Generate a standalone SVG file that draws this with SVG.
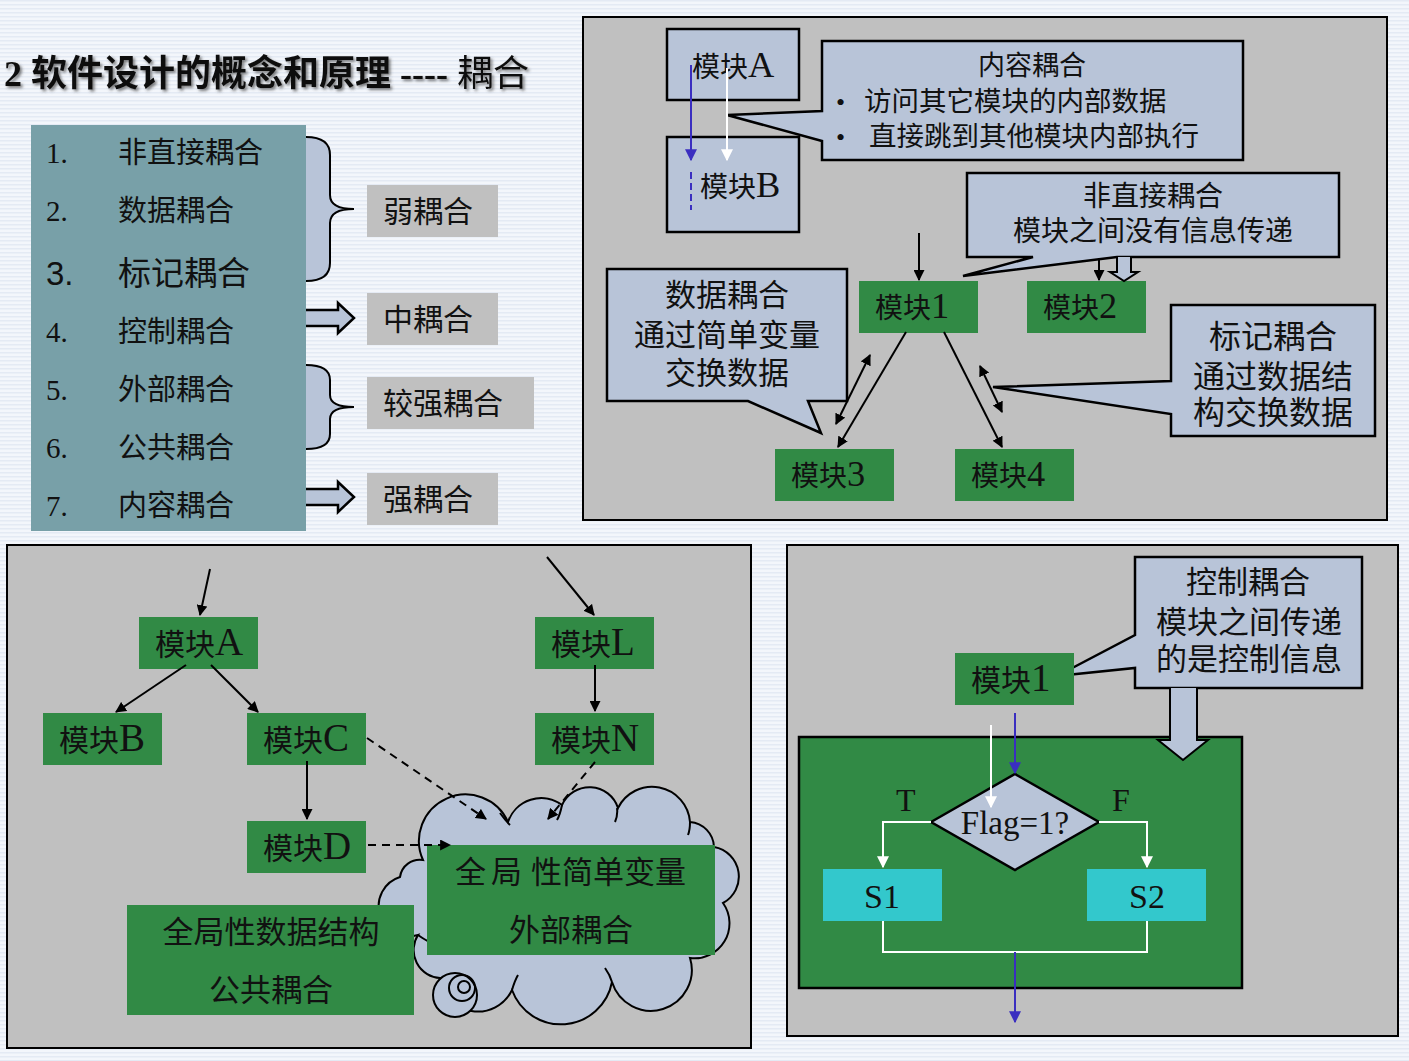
<svg xmlns="http://www.w3.org/2000/svg" width="1409" height="1061" viewBox="0 0 1409 1061">
<style>
.t{font-family:"Liberation Serif","Noto Sans CJK SC",serif;fill:#111}
.L{font-size:1.3em}
.pan{fill:#c0c0c0;stroke:#000;stroke-width:2}
.call{fill:#b8c4d8;stroke:#000;stroke-width:2.5}
.grn{fill:#318a45}
.gray{fill:#c0c0c0}
.ln{stroke:#000;stroke-width:2;fill:none}
.dash{stroke:#000;stroke-width:2;fill:none;stroke-dasharray:8 6}
.wl{stroke:#fff;stroke-width:2;fill:none}
.bl{stroke:#3a2ec0;stroke-width:2;fill:none}
</style>
<defs>
<pattern id="bg" width="8" height="4" patternUnits="userSpaceOnUse">
<rect width="8" height="4" fill="#f3f6fb"/>
<rect width="8" height="1.5" fill="#e4eaf4"/>
</pattern>
<marker id="ak" viewBox="0 0 10 10" refX="9" refY="5" markerWidth="11" markerHeight="11" orient="auto-start-reverse" markerUnits="userSpaceOnUse">
<path d="M0,0 L10,5 L0,10 z" fill="#000"/>
</marker>
<marker id="ab" viewBox="0 0 10 10" refX="9" refY="5" markerWidth="6" markerHeight="6" orient="auto" markerUnits="strokeWidth">
<path d="M0,0 L10,5 L0,10 z" fill="#3a2ec0"/>
</marker>
<marker id="aw" viewBox="0 0 10 10" refX="9" refY="5" markerWidth="6" markerHeight="6" orient="auto" markerUnits="strokeWidth">
<path d="M0,0 L10,5 L0,10 z" fill="#fff"/>
</marker>
<filter id="sh" x="-5%" y="-20%" width="110%" height="140%">
<feDropShadow dx="2" dy="2" stdDeviation="1.5" flood-color="#444" flood-opacity="0.7"/>
</filter>
</defs>
<rect width="1409" height="1061" fill="url(#bg)"/>

<!-- title -->
<g id="title">
<text class="t" x="4" y="86" font-size="36" filter="url(#sh)"><tspan font-weight="bold">2 软件设计的概念和原理 ----</tspan><tspan> 耦合</tspan></text>
</g>

<!-- left list -->
<g id="list">
<rect x="31" y="125" width="275" height="406" fill="#78a0a8"/>
<g class="t" font-size="29">
<text x="46" y="163">1.</text><text x="118" y="163">非直接耦合</text>
<text x="46" y="221">2.</text><text x="118" y="221">数据耦合</text>
<text x="46" y="285" font-size="33" font-family="Liberation Sans,sans-serif">3.</text><text x="118" y="285" font-size="33">标记耦合</text>
<text x="46" y="342">4.</text><text x="118" y="342">控制耦合</text>
<text x="46" y="400">5.</text><text x="118" y="400">外部耦合</text>
<text x="46" y="458">6.</text><text x="118" y="458">公共耦合</text>
<text x="46" y="516">7.</text><text x="118" y="516">内容耦合</text>
</g>
</g>
<g id="brace1">
<path d="M306,137 Q330,137 330,155 L330,195 Q330,209 354,209 Q330,209 330,223 L330,263 Q330,281 306,281 Z" fill="#b8c4d8"/>
<path d="M306,137 Q330,137 330,155 L330,195 Q330,209 354,209 Q330,209 330,223 L330,263 Q330,281 306,281" class="ln" stroke-width="2.5"/>
</g>
<g id="brace2">
<path d="M306,365 Q330,365 330,380 L330,395 Q330,407 354,407 Q330,407 330,419 L330,434 Q330,449 306,449 Z" fill="#b8c4d8"/>
<path d="M306,365 Q330,365 330,380 L330,395 Q330,407 354,407 Q330,407 330,419 L330,434 Q330,449 306,449" class="ln" stroke-width="2.5"/>
</g>
<g id="harrow1"><path d="M306,310 L338,310 L338,303 L354,318 L338,333 L338,326 L306,326" fill="#b8c4d8" stroke="#000" stroke-width="2.5"/></g>
<g id="harrow2"><path d="M306,489 L338,489 L338,482 L354,497 L338,512 L338,505 L306,505" fill="#b8c4d8" stroke="#000" stroke-width="2.5"/></g>
<g id="weak"><rect class="gray" x="367" y="185" width="131" height="52"/><text class="t" x="383" y="222" font-size="30">弱耦合</text></g>
<g id="mid"><rect class="gray" x="367" y="293" width="131" height="52"/><text class="t" x="383" y="330" font-size="30">中耦合</text></g>
<g id="strongish"><rect class="gray" x="367" y="377" width="167" height="52"/><text class="t" x="383" y="414" font-size="30">较强耦合</text></g>
<g id="strong"><rect class="gray" x="367" y="473" width="131" height="52"/><text class="t" x="383" y="510" font-size="30">强耦合</text></g>

<!-- top-right panel -->
<rect class="pan" x="583" y="17" width="804" height="503"/>
<g id="tA"><rect class="call" x="667" y="29" width="132" height="71"/><text class="t" x="692" y="77" font-size="28">模块<tspan class="L">A</tspan></text></g>
<g id="tB"><rect class="call" x="667" y="137" width="132" height="95"/><text class="t" x="700" y="197" font-size="28">模块<tspan class="L">B</tspan></text></g>
<g id="c-content">
<path class="call" d="M822,41 L1243,41 L1243,160 L822,160 L822,141 L727,115 L822,111 Z"/>
<text class="t" x="1032" y="75" font-size="27" text-anchor="middle">内容耦合</text>
<text class="t" x="836" y="111" font-size="26">•</text><text class="t" x="864" y="111" font-size="27.5">访问其它模块的内部数据</text>
<text class="t" x="836" y="146" font-size="26">•</text><text class="t" x="869" y="146" font-size="27.5">直接跳到其他模块内部执行</text>
</g>
<g id="c-indirect">
<path class="call" d="M967,173 L1339,173 L1339,257 L1117,257 L963,276 L1033,257 L967,257 Z"/>
<text class="t" x="1153" y="206" font-size="28" text-anchor="middle">非直接耦合</text>
<text class="t" x="1153" y="241" font-size="28" text-anchor="middle">模块之间没有信息传递</text>
</g>
<g id="m1"><rect class="grn" x="859" y="281" width="119" height="52"/><text class="t" x="875" y="318" font-size="28">模块<tspan class="L">1</tspan></text></g>
<g id="m2"><rect class="grn" x="1027" y="281" width="119" height="52"/><text class="t" x="1043" y="318" font-size="28">模块<tspan class="L">2</tspan></text></g>
<g id="m3"><rect class="grn" x="775" y="449" width="119" height="52"/><text class="t" x="791" y="486" font-size="28">模块<tspan class="L">3</tspan></text></g>
<g id="m4"><rect class="grn" x="955" y="449" width="119" height="52"/><text class="t" x="971" y="486" font-size="28">模块<tspan class="L">4</tspan></text></g>
<g id="c-data">
<path class="call" d="M607,269 L847,269 L847,401 L808,401 L821,433 L748,401 L607,401 Z"/>
<text class="t" x="727" y="306" font-size="31" text-anchor="middle">数据耦合</text>
<text class="t" x="727" y="346" font-size="31" text-anchor="middle">通过简单变量</text>
<text class="t" x="727" y="384" font-size="31" text-anchor="middle">交换数据</text>
</g>
<g id="c-stamp">
<path class="call" d="M1171,305 L1375,305 L1375,436 L1171,436 L1171,414 L993,387 L1171,381 Z"/>
<text class="t" x="1273" y="348" font-size="32" text-anchor="middle">标记耦合</text>
<text class="t" x="1273" y="388" font-size="32" text-anchor="middle">通过数据结</text>
<text class="t" x="1273" y="424" font-size="32" text-anchor="middle">构交换数据</text>
</g>
<g id="harrow3"><path d="M1117,257 L1117,272 L1110,272 L1124,281 L1138,272 L1131,272 L1131,257" fill="#b8c4d8" stroke="#000" stroke-width="2"/></g>

<!-- bottom-left panel -->
<rect class="pan" x="7" y="545" width="744" height="503"/>
<g id="cloud">
<path d="M423,860 A45,45 0 0 1 508,822 A35,35 0 0 1 562,805 A30,30 0 0 1 618,808 A38,38 0 0 1 690,822 A26,26 0 0 1 714,847 A30,30 0 0 1 723,903 A35,35 0 0 1 690,958 A40,40 0 0 1 612,982 A52,52 0 0 1 512,990 A38,38 0 0 1 440,978 A28,28 0 0 1 418,935 A30,30 0 0 1 400,877 A20,20 0 0 1 423,860 Z" fill="#b8c4d8" stroke="#000" stroke-width="2"/>
<path d="M500,813 Q505,820 510,825 M562,805 Q560,815 557,820 M617,808 Q618,815 615,822 M690,822 Q690,830 688,835 M612,982 Q610,975 605,968 M512,990 Q515,980 518,975 M418,935 Q425,940 430,942" class="ln"/>
<circle cx="455" cy="995" r="22" fill="#b8c4d8" stroke="#000" stroke-width="2"/>
<circle cx="462" cy="988" r="13" fill="none" stroke="#000" stroke-width="2"/>
<circle cx="464" cy="987" r="6" fill="none" stroke="#000" stroke-width="2"/>
</g>
<g id="bA"><rect class="grn" x="139" y="617" width="119" height="52"/><text class="t" x="155" y="655" font-size="30">模块<tspan class="L">A</tspan></text></g>
<g id="bB"><rect class="grn" x="43" y="713" width="119" height="52"/><text class="t" x="59" y="751" font-size="30">模块<tspan class="L">B</tspan></text></g>
<g id="bC"><rect class="grn" x="247" y="713" width="119" height="52"/><text class="t" x="263" y="751" font-size="30">模块<tspan class="L">C</tspan></text></g>
<g id="bD"><rect class="grn" x="247" y="821" width="119" height="52"/><text class="t" x="263" y="859" font-size="30">模块<tspan class="L">D</tspan></text></g>
<g id="bL"><rect class="grn" x="535" y="617" width="119" height="52"/><text class="t" x="551" y="655" font-size="30">模块<tspan class="L">L</tspan></text></g>
<g id="bN"><rect class="grn" x="535" y="713" width="119" height="52"/><text class="t" x="551" y="751" font-size="30">模块<tspan class="L">N</tspan></text></g>
<g id="ext"><rect class="grn" x="427" y="845" width="288" height="110"/>
<text class="t" y="883" font-size="31"><tspan x="455">全</tspan><tspan x="491">局</tspan><tspan x="531">性简单变量</tspan></text>
<text class="t" x="571" y="941" font-size="31" text-anchor="middle">外部耦合</text></g>
<g id="com"><rect class="grn" x="127" y="905" width="287" height="110"/>
<text class="t" x="271" y="943" font-size="31" text-anchor="middle">全局性数据结构</text>
<text class="t" x="271" y="1001" font-size="31" text-anchor="middle">公共耦合</text></g>

<!-- bottom-right panel -->
<rect class="pan" x="787" y="545" width="611" height="491"/>
<g id="c-ctrl">
<path class="call" d="M1135,557 L1362,557 L1362,688 L1135,688 L1135,668 L1057,676 L1135,635 Z"/>
<text class="t" x="1248" y="593" font-size="31" text-anchor="middle">控制耦合</text>
<text class="t" x="1249" y="633" font-size="31" text-anchor="middle">模块之间传递</text>
<text class="t" x="1249" y="670" font-size="31" text-anchor="middle">的是控制信息</text>
</g>
<g id="r1"><rect class="grn" x="955" y="653" width="119" height="52"/><text class="t" x="971" y="691" font-size="30">模块<tspan class="L">1</tspan></text></g>
<g id="rbox"><rect x="799" y="737" width="443" height="251" fill="#318a45" stroke="#000" stroke-width="2.5"/></g>
<g id="harrow4"><path d="M1170,688 L1170,740 L1158,740 L1183,760 L1208,740 L1197,740 L1197,688" fill="#b8c4d8" stroke="#000" stroke-width="2"/></g>
<g id="flag"><path d="M931,822 L1015,774 L1099,822 L1015,870 Z" fill="#b8c4d8" stroke="#000" stroke-width="2.5"/><text class="t" x="1015" y="834" font-size="33" text-anchor="middle">Flag=1?</text></g>
<g id="s1"><rect x="823" y="869" width="119" height="52" fill="#33c8cc"/><text class="t" x="882" y="908" font-size="34" text-anchor="middle">S1</text></g>
<g id="s2"><rect x="1087" y="869" width="119" height="52" fill="#33c8cc"/><text class="t" x="1147" y="908" font-size="34" text-anchor="middle">S2</text></g>
<text class="t" x="896" y="811" font-size="32">T</text>
<text class="t" x="1112" y="811" font-size="32">F</text>

<g id="connectors">
<line class="bl" x1="691" y1="65" x2="691" y2="160" marker-end="url(#ab)"/>
<line class="bl" x1="691" y1="172" x2="691" y2="210" stroke-dasharray="7 4"/>
<line class="wl" x1="727" y1="68" x2="727" y2="160" marker-end="url(#aw)"/>
<line class="ln" x1="919" y1="233" x2="919" y2="280" marker-end="url(#ak)"/>
<line class="ln" x1="1099" y1="258" x2="1099" y2="280" marker-end="url(#ak)"/>
<line class="ln" x1="906" y1="332" x2="838" y2="447" marker-end="url(#ak)"/>
<line class="ln" x1="944" y1="332" x2="1002" y2="447" marker-end="url(#ak)"/>
<line class="ln" x1="870" y1="355" x2="836" y2="424" marker-start="url(#ak)" marker-end="url(#ak)"/>
<line class="ln" x1="980" y1="366" x2="1002" y2="412" marker-start="url(#ak)" marker-end="url(#ak)"/>
<line class="ln" x1="210" y1="569" x2="200" y2="615" marker-end="url(#ak)"/>
<line class="ln" x1="186" y1="665" x2="116" y2="712" marker-end="url(#ak)"/>
<line class="ln" x1="211" y1="665" x2="258" y2="712" marker-end="url(#ak)"/>
<line class="ln" x1="307" y1="761" x2="307" y2="819" marker-end="url(#ak)"/>
<line class="ln" x1="547" y1="557" x2="594" y2="615" marker-end="url(#ak)"/>
<line class="ln" x1="595" y1="665" x2="595" y2="711" marker-end="url(#ak)"/>
<line class="dash" x1="367" y1="738" x2="486" y2="819" marker-end="url(#ak)"/>
<line class="dash" x1="595" y1="762" x2="548" y2="819" marker-end="url(#ak)"/>
<line class="dash" x1="368" y1="845" x2="450" y2="845" marker-end="url(#ak)"/>
<line class="bl" x1="1015" y1="713" x2="1015" y2="773" marker-end="url(#ab)"/>
<line class="wl" x1="991" y1="725" x2="991" y2="807" marker-end="url(#aw)"/>
<polyline class="wl" points="931,822 883,822 883,867" marker-end="url(#aw)"/>
<polyline class="wl" points="1099,822 1147,822 1147,867" marker-end="url(#aw)"/>
<polyline class="wl" points="883,921 883,952 1147,952 1147,921"/>
<line class="bl" x1="1015" y1="952" x2="1015" y2="1022" marker-end="url(#ab)"/>
</g>
</svg>
